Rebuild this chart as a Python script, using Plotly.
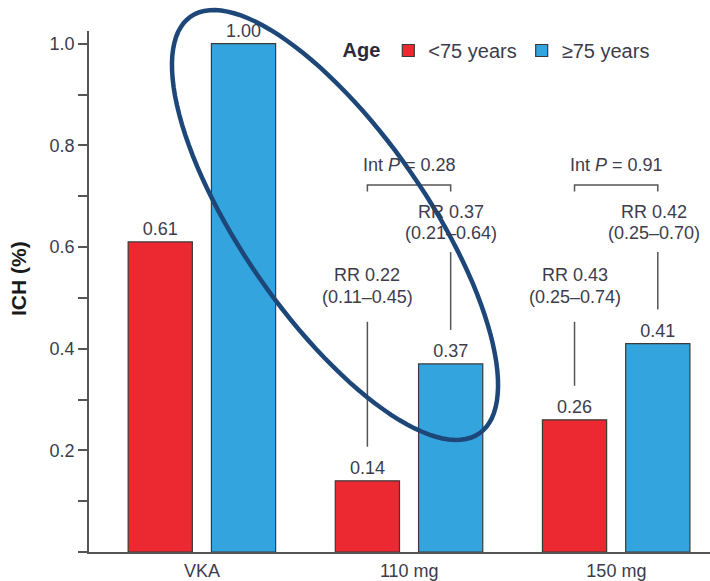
import numpy as np
import plotly.graph_objects as go

# ---------------- data ----------------
categories = ["VKA", "110 mg", "150 mg"]
series_names = ["<75 years", "≥75 years"]
under75 = [0.61, 0.14, 0.26]
over75 = [1.00, 0.37, 0.41]
value_labels_under = ["0.61", "0.14", "0.26"]
value_labels_over = ["1.00", "0.37", "0.41"]
rr_under = [None, ("RR 0.22", "(0.11–0.45)"), ("RR 0.43", "(0.25–0.74)")]
rr_over = [None, ("RR 0.37", "(0.21–0.64)"), ("RR 0.42", "(0.25–0.70)")]
int_p = [None, "0.28", "0.91"]
y_tickvals = [0.0, 0.2, 0.4, 0.6, 0.8, 1.0]
y_ticktext = ["", "0.2", "0.4", "0.6", "0.8", "1.0"]
y_title = "ICH (%)"

# ---------------- style ----------------
FONT = "Liberation Sans, Arial, Helvetica, sans-serif"
RED = "#EC2830"
BLUE = "#33A4DD"
EDGE = "#3a3a3a"
TXT = "#3c3c4c"
LINE = "#555555"

BAR_W = 0.31
OFF_RED = -0.357
OFF_BLUE = 0.045
XR = [-0.546, 2.452]
YR = [0, 1.025]

L, R, T, B = 89, 0, 31, 29
W, H = 710, 581

x_idx = list(range(len(categories)))

fig = go.Figure()
fig.add_trace(go.Bar(
    x=x_idx, y=under75, name=series_names[0],
    width=BAR_W, offset=OFF_RED,
    marker=dict(color=RED, line=dict(color=EDGE, width=1.2)),
    text=value_labels_under, textposition="outside",
    textfont=dict(size=18, color=TXT, family=FONT),
    cliponaxis=False,
))
fig.add_trace(go.Bar(
    x=x_idx, y=over75, name=series_names[1],
    width=BAR_W, offset=OFF_BLUE,
    marker=dict(color=BLUE, line=dict(color=EDGE, width=1.2)),
    text=value_labels_over, textposition="outside",
    textfont=dict(size=18, color=TXT, family=FONT),
    cliponaxis=False,
))

shapes = []
annotations = []

red_c = [i + OFF_RED + BAR_W / 2 for i in x_idx]
blue_c = [i + OFF_BLUE + BAR_W / 2 for i in x_idx]

# interaction brackets
for i, p in enumerate(int_p):
    if p is None:
        continue
    yb, yt = 0.709, 0.722
    shapes.append(dict(type="path", xref="x", yref="y",
                       path=f"M{red_c[i]},{yb} L{red_c[i]},{yt} L{blue_c[i]},{yt} L{blue_c[i]},{yb}",
                       line=dict(color=LINE, width=1.5)))
    annotations.append(dict(x=(red_c[i] + blue_c[i]) / 2, y=0.762, xref="x", yref="y",
                            text=f"Int <i>P</i> = {p}", showarrow=False,
                            font=dict(size=18, color=TXT, family=FONT)))

# RR labels
for i in x_idx:
    if rr_under[i] is not None:
        l1, l2 = rr_under[i]
        annotations.append(dict(x=red_c[i], y=0.545, xref="x", yref="y", text=l1, showarrow=False,
                                font=dict(size=18, color=TXT, family=FONT)))
        annotations.append(dict(x=red_c[i], y=0.502, xref="x", yref="y", text=l2, showarrow=False,
                                font=dict(size=18, color=TXT, family=FONT)))
        shapes.append(dict(type="line", xref="x", yref="y", x0=red_c[i], x1=red_c[i],
                           y0=under75[i] + 0.067, y1=0.453, line=dict(color=LINE, width=1.5)))
    if rr_over[i] is not None:
        l1, l2 = rr_over[i]
        annotations.append(dict(x=blue_c[i], y=0.669, xref="x", yref="y", text=l1, showarrow=False,
                                font=dict(size=18, color=TXT, family=FONT), xshift=-4 * (i - 1)))
        annotations.append(dict(x=blue_c[i], y=0.628, xref="x", yref="y", text=l2, showarrow=False,
                                font=dict(size=18, color=TXT, family=FONT), xshift=-4 * (i - 1)))
        shapes.append(dict(type="line", xref="x", yref="y", x0=blue_c[i], x1=blue_c[i],
                           y0=over75[i] + 0.067, y1=0.59, line=dict(color=LINE, width=1.5)))

# y-axis title as rotated annotation
annotations.append(dict(x=-0.1127, y=0.524, xref="paper", yref="paper", text=f"<b>{y_title}</b>",
                        textangle=-90, showarrow=False, xanchor="center", yanchor="middle",
                        font=dict(size=21, color="#1a1a1a", family=FONT)))

# highlight ellipse (decoration), defined in pixel space, converted to paper coords
cx, cy, a, b, th = 335, 225, 253.5, 92.3, np.deg2rad(55.3)
t = np.linspace(0, 2 * np.pi, 121)
px = cx + a * np.cos(th) * np.cos(t) - b * np.sin(th) * np.sin(t)
py = cy + a * np.sin(th) * np.cos(t) + b * np.cos(th) * np.sin(t)
pw, ph = W - L - R, H - T - B
xp = (px - L) / pw
yp = (H - B - py) / ph
path = "M" + " L".join(f"{u:.4f},{v:.4f}" for u, v in zip(xp, yp)) + " Z"
shapes.append(dict(type="path", xref="paper", yref="paper", path=path,
                   line=dict(color="#1d4679", width=4.5), layer="above"))

fig.update_layout(
    template="none",
    width=W, height=H,
    margin=dict(l=L, r=R, t=T, b=B, pad=0),
    paper_bgcolor="white", plot_bgcolor="white",
    barmode="overlay",
    font=dict(family=FONT, size=18, color=TXT),
    showlegend=True,
    legend=dict(
        orientation="h", x=0.405, y=1.0, xanchor="left", yanchor="top",
        title=dict(text="<b>Age</b>", side="left", font=dict(size=20, color="#2a2a3a")),
        font=dict(size=20, color=TXT, family=FONT),
        bgcolor="rgba(0,0,0,0)", itemwidth=30, tracegroupgap=0,
    ),
    xaxis=dict(
        range=XR, tickmode="array", tickvals=x_idx, ticktext=categories,
        showgrid=False, zeroline=False, showline=True, linecolor="#555555", linewidth=1.5,
        ticks="", tickfont=dict(size=18, color=TXT), ticklabelstandoff=2,
        automargin=False, fixedrange=True,
    ),
    yaxis=dict(
        range=YR, tickmode="array", tickvals=y_tickvals, ticktext=y_ticktext,
        showgrid=False, zeroline=False, showline=True, linecolor="#555555", linewidth=1.5,
        ticks="outside", ticklen=9, tickwidth=1.5, tickcolor="#555555",
        minor=dict(ticks="outside", ticklen=9, tickwidth=1.5, tickcolor="#555555",
                   tickmode="array", tickvals=[0.1, 0.3, 0.5, 0.7, 0.9]),
        tickfont=dict(size=18, color=TXT),
        automargin=False, fixedrange=True,
    ),
    shapes=shapes,
    annotations=annotations,
)

fig.write_html(
    "out.html",
    config={"displayModeBar": False},
    post_script="document.body.style.margin='0';document.body.style.overflow='hidden';",
)
